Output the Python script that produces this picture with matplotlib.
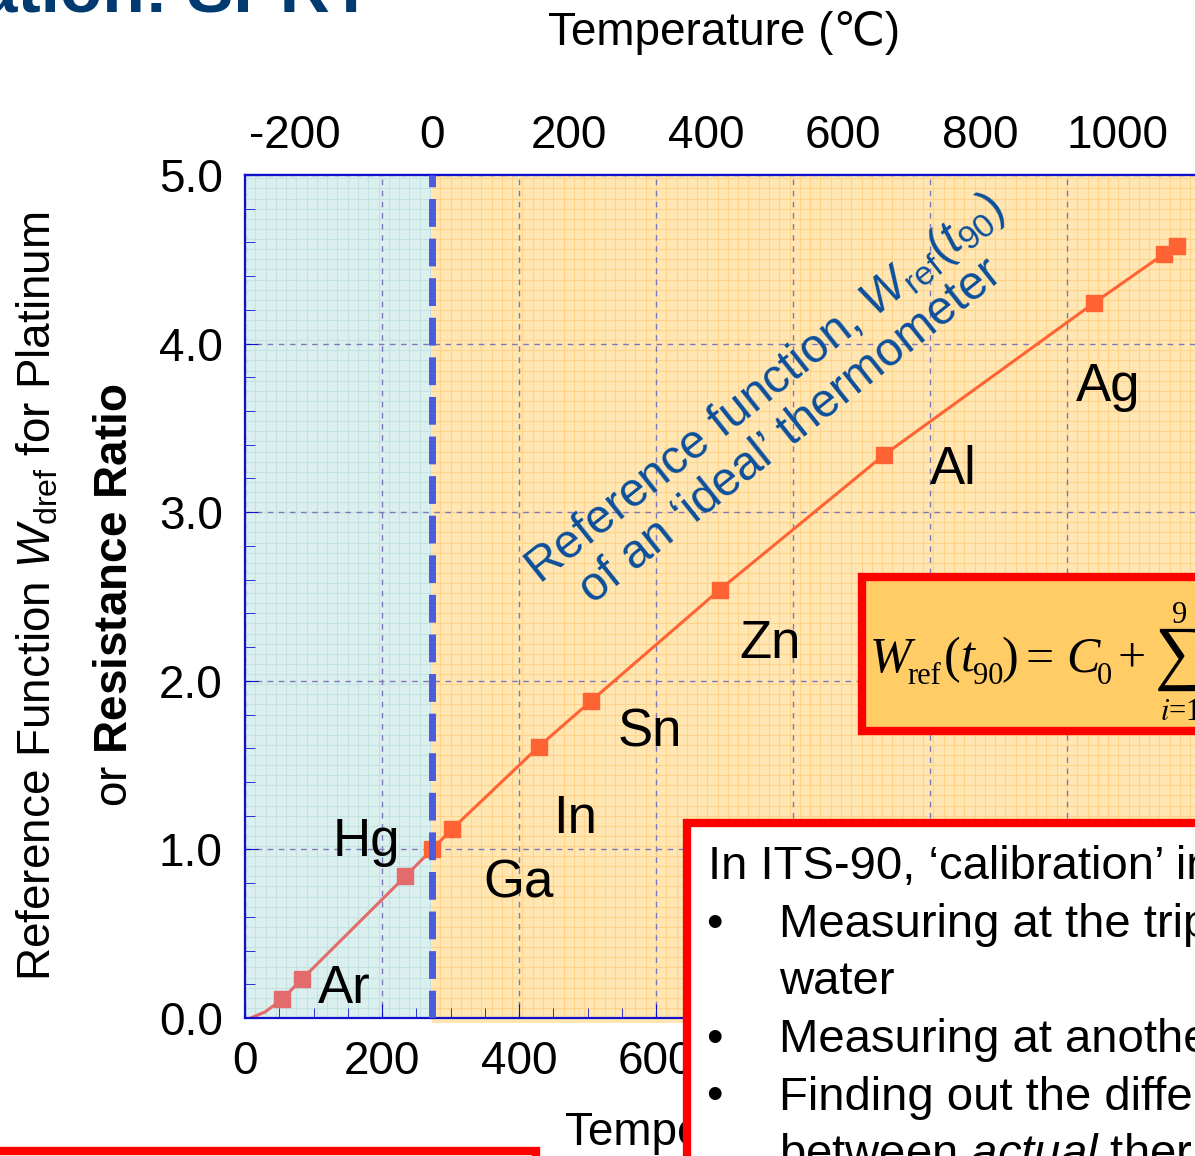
import numpy as np
import matplotlib
matplotlib.use("Agg")
import matplotlib.pyplot as plt
from matplotlib.ticker import MultipleLocator, FormatStrFormatter, FixedFormatter
from matplotlib.patches import Rectangle

# fixed points of the reference function (T in K, W_ref)
point_names = ["O2", "Ar", "Hg", "TPW", "Ga", "In", "Sn", "Zn", "Al", "Ag", "Au", "Cu"]
temps_k = [54, 83, 234, 273.16, 302, 429, 505, 693, 933, 1239, 1341, 1361]
w_ref = [0.11, 0.23, 0.84, 1.00, 1.12, 1.61, 1.88, 2.54, 3.34, 4.24, 4.53, 4.58]

# start of the curve, before the first marker
start_k = [8, 29]
start_w = [0.0, 0.035]

# labelled points and where the label sits (offset in points, alignment)
labelled = ["Ar", "Hg", "Ga", "In", "Sn", "Zn", "Al", "Ag"]
label_offsets = {
    "Ar": (11.5, -17, "left"),
    "Hg": (-3.6, 14.4, "right"),
    "Ga": (23, -49, "left"),
    "In": (10, -62, "left"),
    "Sn": (19, -33, "left"),
    "Zn": (14, -49, "left"),
    "Al": (33, -21, "left"),
    "Ag": (-13, -70.5, "left"),
}

x_ticks_k = [0, 200, 400, 600, 800, 1000, 1200, 1400]
x_labels_k = ["0", "200", "400", "600", "", "", "", ""]   # the rest sit under the text box
x_ticks_c = [-200, 0, 200, 400, 600, 800, 1000]
y_ticks = [0, 1, 2, 3, 4, 5]
T0 = 273.15

bullets = ["Measuring at the triple point of", "water",
           "Measuring at another fixed point", "Finding out the difference",
           "between $\\mathit{actual}$ thermometer"]
bullet_marks = [True, False, True, True, False]

# formula W_ref(t90) = C0 + sum_{i=1}^{9} ..., set piece by piece:
# (text, x px, baseline px, size, style)
formula = [
    ("W", 870, 672, 36, "italic"), ("ref", 907, 684, 22, "normal"),
    ("(", 944, 672, 36, "normal"), ("t", 961, 672, 36, "italic"),
    ("90", 973, 684, 22, "normal"), (")", 1001, 672, 36, "normal"),
    ("=", 1026, 672, 36, "normal"), ("C", 1066, 672, 36, "italic"),
    ("0", 1097, 684, 22, "normal"), ("+", 1118, 672, 36, "normal"),
    ("\u2211", 1155, 676, 52, "normal"), ("9", 1172, 623, 22, "normal"),
    ("$i$=1", 1160, 720, 22, "normal"),
    ("C", 1215, 672, 36, "italic"),
]

# colours
cold_bg = "#dcefef"
cold_grid = "#c3e2e2"
warm_bg = "#ffe6b3"
warm_grid = "#ffd48a"
axis_blue = "#1111cc"
cold_red = "#e36b6b"
warm_red = "#ff6333"

W, H = 1195, 1156
fx = lambda px: px / W
fy = lambda py: 1 - py / H

plt.rcParams['font.family'] = ['Liberation Sans', 'DejaVu Sans']
plt.rcParams['mathtext.fontset'] = 'custom'
plt.rcParams['mathtext.rm'] = 'Liberation Sans'
plt.rcParams['mathtext.it'] = 'Liberation Sans:italic'
plt.rcParams['mathtext.bf'] = 'Liberation Sans:bold'
plt.rcParams['axes.unicode_minus'] = False

fig = plt.figure(figsize=(W / 100, H / 100), dpi=100)
ax = fig.add_axes([fx(245), fy(1018), 959 / W, 843 / H])
ax.set_xlim(0, 1400)
ax.set_ylim(0, 5)
ax.set_axisbelow(True)

# coloured regions (below / above the triple point of water)
ax.axvspan(0, T0, color=cold_bg, zorder=0.1, lw=0)
ax.axvspan(T0, 1400, color=warm_bg, zorder=0.1, lw=0)
ax.add_patch(Rectangle((T0, -0.03), 1400 - T0, 0.03, color=warm_bg,
                       clip_on=False, zorder=0.1, lw=0))

# graph paper
for x in np.arange(0, 1400, 15):
    ax.axvline(x, color=cold_grid if x < T0 else warm_grid, lw=0.8, zorder=0.2)
ys = np.arange(0, 5, 0.06)
ax.hlines(ys, 0, T0, color=cold_grid, lw=0.8, zorder=0.2)
ax.hlines(ys, T0, 1400, color=warm_grid, lw=0.8, zorder=0.2)

ax.grid(which='major', color='#7d78b8', linestyle=(0, (4, 4)), lw=1.0)

# reference curve
cold_k = start_k + [t for t in temps_k if t <= T0 + 0.1]
cold_w = start_w + [w for t, w in zip(temps_k, w_ref) if t <= T0 + 0.1]
warm_k = [t for t in temps_k if t >= T0]
warm_w = [w for t, w in zip(temps_k, w_ref) if t >= T0]
ax.plot(cold_k, cold_w, color=cold_red, lw=2.2, zorder=2)
ax.plot(warm_k, warm_w, color=warm_red, lw=2.2, zorder=2)
ax.plot([t for t in temps_k if t < T0], [w for t, w in zip(temps_k, w_ref) if t < T0],
        's', ms=11.5, color=cold_red, zorder=2.5)
ax.plot(warm_k, warm_w, 's', ms=11.5, color=warm_red, zorder=2.5)

ax.axvline(T0, color='#4b5ddd', lw=5, dashes=(4, 1.7), zorder=3)

for name in labelled:
    i = point_names.index(name)
    dx, dy, ha = label_offsets[name]
    ax.annotate(name, xy=(temps_k[i], w_ref[i]), xytext=(dx, dy),
                textcoords='offset points', fontsize=38, ha=ha, va='baseline', zorder=4)

# axes styling
for s in ax.spines.values():
    s.set_color(axis_blue)
    s.set_linewidth(1.6)
ax.xaxis.set_major_locator(plt.FixedLocator(x_ticks_k))
ax.xaxis.set_major_formatter(FixedFormatter(x_labels_k))
ax.xaxis.set_minor_locator(MultipleLocator(50))
ax.yaxis.set_major_locator(plt.FixedLocator(y_ticks))
ax.yaxis.set_minor_locator(MultipleLocator(0.2))
ax.yaxis.set_major_formatter(FormatStrFormatter('%.1f'))
ax.tick_params(which='both', direction='in', colors=axis_blue, labelcolor='black',
               labelsize=33, top=False, right=False)
ax.tick_params(axis='x', which='major', length=10, pad=16)
ax.tick_params(axis='x', which='minor', length=7)
ax.tick_params(axis='y', which='major', length=9, pad=16)
ax.tick_params(axis='y', which='minor', length=7)

top = ax.secondary_xaxis('top', functions=(lambda k: k - T0, lambda c: c + T0))
top.set_xticks(x_ticks_c)
top.xaxis.set_minor_locator(MultipleLocator(50))
top.tick_params(which='both', direction='in', colors=axis_blue, labelcolor='black',
                labelsize=33, pad=12)
top.tick_params(which='major', length=11)
top.tick_params(which='minor', length=7)
top.spines['top'].set_color(axis_blue)
top.spines['top'].set_linewidth(1.6)

# labels
fig.text(fx(548), fy(45), "Temperature (\u2103)", fontsize=33, ha='left', va='baseline')
fig.text(fx(565), fy(1145), "Temperature (K)", fontsize=33, ha='left', va='baseline')
fig.text(fx(38), fy(596), r"Reference Function $\mathit{W}_{\mathrm{dref}}$ for Platinum",
         rotation=90, fontsize=33, ha='center', va='center')
fig.text(fx(115), fy(595), r"or $\mathbf{Resistance\ Ratio}$",
         rotation=90, fontsize=33, ha='center', va='center')
fig.text(fx(372), fy(12), "Calibration: SPRT", fontsize=50, weight='bold',
         color='#003a70', ha='right', va='baseline')

fig.text(fx(540), fy(585), r"Reference function, $W_{\mathrm{ref}}(t_{90})$",
         rotation=38.5, rotation_mode='anchor', ha='left', va='baseline',
         fontsize=34.5, color='#0b4f9c')
fig.text(fx(593), fy(605), "of an \u2018ideal\u2019 thermometer",
         rotation=38.5, rotation_mode='anchor', ha='left', va='baseline',
         fontsize=34.5, color='#0b4f9c')

# formula box
fig.add_artist(Rectangle((fx(862), fy(731)), fx(600), 154 / H, transform=fig.transFigure,
                         facecolor='#ffcc66', edgecolor='#ff0000', lw=6, zorder=5))
for txt, px, py, size, style in formula:
    fig.text(fx(px), fy(py), txt, fontsize=size, style=style,
             family=['Liberation Serif', 'DejaVu Serif'], math_fontfamily='stix',
             ha='left', va='baseline', zorder=6)

# text box bottom right
fig.add_artist(Rectangle((fx(687), fy(1250)), fx(600), 427 / H, transform=fig.transFigure,
                         facecolor='white', edgecolor='#ff0000', lw=6, zorder=5))
fig.text(fx(708), fy(879), "In ITS-90, \u2018calibration\u2019 involves:", fontsize=34,
         ha='left', va='baseline', zorder=6)
for k, (line, mark) in enumerate(zip(bullets, bullet_marks)):
    yb = 937 + 57.5 * k
    if mark:
        fig.text(fx(706), fy(yb), "\u2022", fontsize=34, ha='left', va='baseline', zorder=6)
    fig.text(fx(779), fy(yb), line, fontsize=34, ha='left', va='baseline', zorder=6)

# box bottom left
fig.add_artist(Rectangle((fx(-20), fy(1300)), fx(556), 149 / H, transform=fig.transFigure,
                         facecolor='white', edgecolor='#ff0000', lw=6, zorder=5))

fig.savefig("out.png", dpi=100)
